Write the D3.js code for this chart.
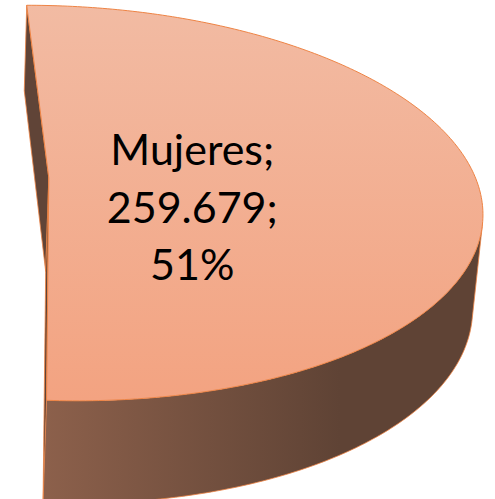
<!DOCTYPE html>
<html>
<head>
<meta charset="utf-8">
<script src="https://cdn.jsdelivr.net/npm/d3@7"></script>
<style>
  html, body { margin: 0; padding: 0; background: #fff; }
  svg { display: block; }
</style>
</head>
<body>
<svg id="chart"></svg>
<script>
let labels = ["Mujeres", "Hombres"];
let values = [259679, 249495];
// only the first slice lies inside the cropped frame
let visible = ["Mujeres"];

let width = 495;
let height = 499;

// 3d view of the pie (camera to the left and above the slice)
let tilt = Math.asin(0.456);
let dist = 7.03;
let focal = 3000;
let camX = -0.4605;
let originX = -147.7;
let originY = 178;
let thick = 0.25;

let svg = d3.select("#chart")
  .attr("width", width)
  .attr("height", height);

let es = d3.formatLocale({ decimal: ",", thousands: ".", grouping: [3], currency: ["", "€"] });
let fmtNum = es.format(",d");
let fmtPct = d3.format(".0%");

let pie = d3.pie().sort(null).value((d) => d.value);
let arcs = pie(labels.map((l, i) => ({ label: l, value: values[i] })));

// radius in [0,1], angle clockwise from 12 o'clock, y = 0 top / -thick bottom
let project = (r, a, y) => {
  let X = r * Math.sin(a);
  let Z = r * Math.cos(a);
  let dx = X - camX;
  let dy = y - dist * Math.sin(tilt);
  let dz = Z + dist * Math.cos(tilt);
  let yc = dy * Math.cos(tilt) + dz * Math.sin(tilt);
  let zc = -dy * Math.sin(tilt) + dz * Math.cos(tilt);
  return [originX + focal * dx / zc, originY - focal * yc / zc];
};

let defs = svg.append("defs");

let topGrad = defs.append("linearGradient")
  .attr("id", "topGrad")
  .attr("gradientUnits", "userSpaceOnUse")
  .attr("x1", 0).attr("y1", 6).attr("x2", 0).attr("y2", 400);
topGrad.append("stop").attr("offset", 0).attr("stop-color", "#f2bba3");
topGrad.append("stop").attr("offset", 1).attr("stop-color", "#f3a381");

let sideGrad = defs.append("linearGradient")
  .attr("id", "sideGrad")
  .attr("gradientUnits", "userSpaceOnUse")
  .attr("x1", 45).attr("y1", 0).attr("x2", 340).attr("y2", 0);
sideGrad.append("stop").attr("offset", 0).attr("stop-color", "#8c604b");
sideGrad.append("stop").attr("offset", 1).attr("stop-color", "#5f4335");

let edge = "#ee8445";
let line = d3.line();

arcs.filter((d) => visible.includes(d.data.label)).forEach((d) => {
  let a0 = d.startAngle;
  let a1 = d.endAngle;
  let steps = 240;
  let angles = d3.range(steps + 1).map((i) => a0 + (a1 - a0) * i / steps);

  // outer wall, front facing pieces only
  let wall = "";
  let front = [];
  for (let i = 0; i < steps; i++) {
    let q = [
      project(1, angles[i], 0),
      project(1, angles[i + 1], 0),
      project(1, angles[i + 1], -thick),
      project(1, angles[i], -thick)
    ];
    if (d3.polygonArea(q) > 0) {
      wall += line(q) + "Z";
      front.push(i);
    }
  }
  svg.append("path")
    .attr("d", wall)
    .attr("fill", "url(#sideGrad)")
    .attr("stroke", "none");

  // outline of the wall: silhouette and bottom rim
  let first = front[0];
  let rim = [project(1, angles[first], 0)]
    .concat(angles.slice(first).map((a) => project(1, a, -thick)));
  svg.append("path")
    .attr("d", line(rim))
    .attr("fill", "none")
    .attr("stroke", edge)
    .attr("stroke-width", 0.8);

  // the two cut faces
  [a0, a1].forEach((a) => {
    let q = [project(0, a, 0), project(1, a, 0), project(1, a, -thick), project(0, a, -thick)];
    svg.append("path")
      .attr("d", line(q) + "Z")
      .attr("fill", "#604437")
      .attr("stroke", edge)
      .attr("stroke-width", 0.8)
      .attr("stroke-linejoin", "round");
  });

  // top face
  let topPts = [project(0, a0, 0)].concat(angles.map((a) => project(1, a, 0)));
  svg.append("path")
    .attr("d", line(topPts) + "Z")
    .attr("fill", "url(#topGrad)")
    .attr("stroke", edge)
    .attr("stroke-width", 1)
    .attr("stroke-linejoin", "round");

  // data label
  let mid = (a0 + a1) / 2;
  let anchor = project(0.34, mid, 0);
  let pct = (a1 - a0) / (2 * Math.PI);
  let rows = [d.data.label + ";", fmtNum(d.data.value) + ";", fmtPct(pct)];
  svg.append("text")
    .attr("x", anchor[0])
    .attr("y", anchor[1])
    .attr("text-anchor", "middle")
    .style("font-family", "Lato, 'Open Sans', sans-serif")
    .style("font-size", "43px")
    .style("fill", "#000")
    .selectAll("tspan")
    .data(rows)
    .enter()
    .append("tspan")
    .attr("x", anchor[0] - 2)
    .attr("y", (r, i) => anchor[1] - 15 + i * 57.5)
    .text((r) => r);
});
</script>
</body>
</html>
